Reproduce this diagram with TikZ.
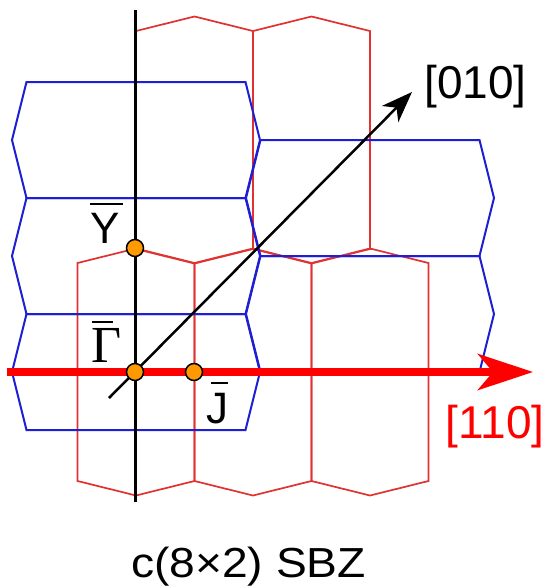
\documentclass[tikz,border=0pt]{standalone}
\usepackage{fontspec}
\setmainfont{Liberation Sans}
\newfontfamily\seriffont{Liberation Serif}
\usetikzlibrary{arrows.meta}
\definecolor{hexred}{RGB}{225,50,50}
\definecolor{hexblue}{RGB}{30,30,210}
\definecolor{dotorange}{RGB}{255,153,0}
\definecolor{axisred}{RGB}{255,0,0}
\begin{document}
\begin{tikzpicture}[x=1pt,y=-1pt,
  bluehex/.style={draw=hexblue,line width=2pt},
  redhex/.style={draw=hexred,line width=1.7pt},
  bhex/.pic={\draw[bluehex] (-109.5,-58) -- (109.5,-58) -- (124,0) -- (109.5,58) -- (-109.5,58) -- (-124,0) -- cycle;},
  rhex/.pic={\draw[redhex] (0,-123.5) -- (58.5,-109) -- (58.5,109) -- (0,123.5) -- (-58.5,109) -- (-58.5,-109) -- cycle;},
  kdot/.style={circle,draw=black,line width=1.5pt,fill=dotorange,minimum size=17pt,inner sep=0pt},
  lbl/.style={inner sep=0pt,font=\fontsize{44}{48}\selectfont},
  dirlbl/.style={inner sep=0pt,anchor=base,font=\fontsize{46}{50}\selectfont},
  barline/.style={line width=1.8pt}
]
\fill[white] (0,0) rectangle (551,587);
\useasboundingbox (0,0) rectangle (551,587);
% red (vertically elongated) zones
\pic at (194.5,140) {rhex};
\pic at (311.5,140) {rhex};
\pic at (136,372) {rhex};
\pic at (253,372) {rhex};
\pic at (370,372) {rhex};
% blue (horizontally elongated) zones
\pic at (136,140) {bhex};
\pic at (136,256) {bhex};
\pic at (136,372) {bhex};
\pic at (370,198) {bhex};
\pic at (370,314) {bhex};
% axes
\coordinate (vtop) at (135,10);
\coordinate (vbot) at (135,502);
\draw[line width=3pt] (vtop) -- (vbot);
\coordinate (dstart) at (109,398);
\coordinate (dtip) at (412,92);
\draw[line width=2.5pt,-{Stealth[length=31pt,width=23pt,inset=9pt]}] (dstart) -- (dtip);
\coordinate (hstart) at (7,372);
\coordinate (htip) at (533,372);
\draw[axisred,line width=8pt,-{Stealth[length=55pt,width=36pt,inset=15pt]}] (hstart) -- (htip);
% points
\node[kdot] (Y) at (135,248) {};
\node[kdot] (G) at (135,372) {};
\node[kdot] (J) at (194,372) {};
% labels
\node[lbl,anchor=base west] (Ylbl) at (90,243) {Y};
\draw[barline] ([shift={(0,-39)}]Ylbl.base west) -- ++(33,0);
\node[inner sep=0pt,anchor=base west,font=\fontsize{52}{56}\seriffont] (Glbl) at (91,362) {Γ};
\draw[barline] ([shift={(1,-40)}]Glbl.base west) -- ++(21,0);
\node[lbl,anchor=base west] (Jlbl) at (206,423) {J};
\draw[barline] ([shift={(5,-40)}]Jlbl.base west) -- ++(17,0);
\node[dirlbl] (d010) at (475.5,98) {[010]};
\node[dirlbl,text=axisred] (d110) at (495,438) {[110]};
\node[inner sep=0pt,anchor=base,xscale=1.1,font=\fontsize{42}{46}\selectfont] (cap) at (248.5,577) {c(8×2) SBZ};
\end{tikzpicture}
\end{document}
